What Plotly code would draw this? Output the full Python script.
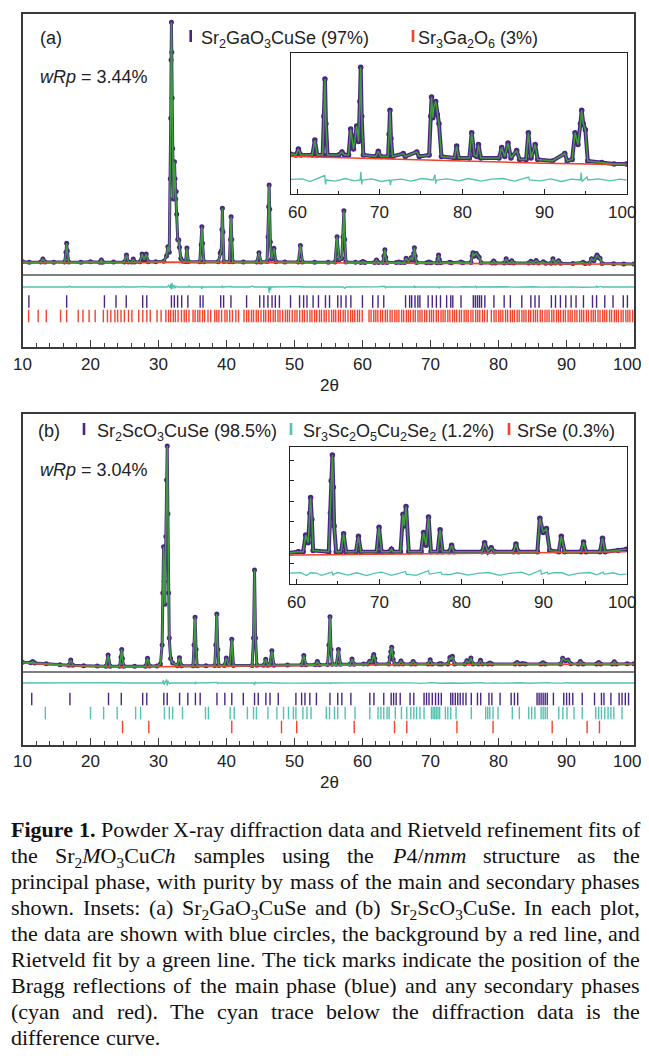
import plotly.graph_objects as go

W, H = 649, 1059          # target picture size
OX, OY = 8, 8             # browser body margin
FW, FH = W - OX, H - 2 * OY   # figure size that fits the window without scrolling

# ---------------- Panel (a): Sr2GaO3CuSe ----------------
obs_a = [
    (10.0, 5.2), (11.0, 5.0), (12.7, 5.1), (13.0, 6.3), (13.3, 5.1), (14.6, 5.0),
    (16.2, 5.1), (16.4, 9.0), (16.5, 12.5), (16.6, 9.5), (16.8, 5.1),
    (18.6, 5.0), (20.0, 5.2), (21.4, 5.0), (21.6, 5.9), (21.8, 5.0),
    (23.4, 5.1), (25.0, 5.1), (25.3, 7.9), (25.6, 5.1), (26.1, 5.1), (26.3, 6.3), (26.5, 5.1),
    (27.3, 5.2), (27.6, 8.3), (27.9, 6.0), (28.2, 8.3), (28.5, 5.2),
    (29.6, 5.2), (30.8, 5.4), (31.2, 7.5), (31.4, 11.2), (31.6, 9.0),
    (31.75, 38.0), (31.82, 62.0), (31.87, 85.0), (31.92, 99.9), (31.97, 88.0), (32.03, 70.0),
    (32.1, 50.0), (32.2, 30.0), (32.3, 36.0), (32.37, 44.8), (32.45, 38.0), (32.55, 30.0),
    (32.62, 33.0), (32.7, 24.0), (32.85, 14.0), (33.0, 13.8), (33.1, 11.0), (33.3, 6.5), (33.6, 5.4),
    (34.0, 5.3), (34.2, 10.7), (34.4, 5.3),
    (36.1, 5.2), (36.3, 12.0), (36.4, 19.1), (36.5, 12.5), (36.7, 5.2),
    (38.8, 5.2), (39.1, 8.7), (39.25, 9.5), (39.35, 18.0), (39.42, 26.4), (39.5, 17.0), (39.65, 5.3),
    (40.45, 5.2), (40.62, 14.0), (40.7, 23.0), (40.8, 14.0), (40.95, 5.2),
    (42.5, 5.1), (44.5, 5.1), (44.8, 8.8), (45.1, 5.1),
    (46.0, 5.3), (46.15, 15.0), (46.23, 27.0), (46.3, 35.6), (46.38, 26.0), (46.48, 13.0), (46.65, 6.2),
    (47.0, 10.6), (47.3, 5.2),
    (48.6, 5.1), (50.6, 5.1), (50.9, 11.7), (51.2, 5.1),
    (53.0, 5.0), (55.0, 5.0), (56.0, 5.1), (56.3, 15.1), (56.6, 6.0), (57.0, 6.5),
    (57.18, 15.0), (57.3, 25.4), (57.42, 14.0), (57.6, 5.1),
    (59.0, 5.0), (59.8, 4.9), (60.1, 5.3), (60.4, 4.9),
    (61.8, 4.9), (62.1, 5.9), (62.4, 4.9), (63.05, 4.9), (63.2, 7.5), (63.33, 10.0), (63.45, 7.0), (63.65, 4.9),
    (65.0, 4.9), (65.4, 5.1), (65.7, 4.9), (66.2, 4.9), (66.46, 6.65), (66.8, 5.3), (67.19, 6.85),
    (67.42, 5.8), (67.58, 8.5), (67.68, 10.8), (67.8, 7.5), (68.0, 4.9),
    (69.5, 4.8), (69.82, 5.15), (70.1, 4.8), (71.0, 4.8), (71.14, 6.3), (71.24, 7.9), (71.36, 6.0),
    (71.55, 4.8), (72.86, 5.0), (73.1, 4.8), (74.5, 5.1), (74.8, 4.8),
    (76.0, 4.9), (76.2, 7.5), (76.3, 8.8), (76.45, 7.4), (76.6, 8.2), (76.8, 8.5), (77.0, 7.6),
    (77.2, 7.0), (77.5, 4.8),
    (79.1, 4.7), (79.35, 5.5), (79.6, 4.7), (80.9, 4.7), (81.18, 6.4), (81.5, 4.9), (81.8, 4.8),
    (82.0, 5.6), (82.3, 4.7),
    (84.5, 4.7), (84.83, 5.4), (85.2, 4.8), (85.6, 5.7), (85.95, 4.7), (86.65, 5.2), (87.0, 4.6),
    (87.8, 4.6), (88.07, 6.4), (88.4, 4.7), (88.9, 5.6), (89.2, 4.6),
    (91.0, 4.5), (92.5, 5.0), (92.8, 4.5), (93.4, 4.6), (93.75, 6.4), (94.1, 5.6), (94.4, 7.0),
    (94.56, 7.9), (94.75, 7.0), (95.0, 6.6), (95.3, 4.5),
    (97.0, 4.4), (98.5, 4.3), (100.0, 4.3),
]
bg_a_2theta = [10, 20, 28, 32, 36, 50, 60, 70, 80, 90, 100]
bg_a_counts = [4.8, 4.8, 4.85, 5.1, 4.9, 4.85, 4.8, 4.65, 4.5, 4.35, 4.25]
diff_a = [
    (10, 0), (12.4, 0), (12.5, 0.25), (12.6, 0), (16.8, 0), (16.9, 0.35), (17.0, -0.1), (17.1, 0),
    (24.7, 0), (24.8, 0.3), (25.0, 0), (26.3, 0.2), (26.5, 0), (28.0, 0.15), (28.3, -0.1), (28.5, 0),
    (31.3, 0), (31.5, 0.6), (31.7, -0.4), (31.8, 1.2), (31.9, -1.0), (32.0, 1.6), (32.1, -0.6),
    (32.3, 0.8), (32.45, -0.5), (32.6, 0.3), (32.8, 0), (34.4, 0), (34.5, 0.45), (34.6, 0),
    (36.3, 0), (36.4, -0.8), (36.5, 0.2), (36.6, 0), (39.3, 0), (39.4, 0.35), (39.5, -0.2), (39.6, 0),
    (40.7, 0.2), (40.8, 0), (43.5, 0), (43.8, 0.4), (44.1, 0), (46.2, 0), (46.3, -2.3), (46.4, 0.4),
    (46.5, -1.2), (46.6, 0), (51.0, 0.15), (51.1, 0), (57.2, 0), (57.4, -0.5), (57.6, 0),
    (60.6, 0.08), (61.5, -0.1), (62.4, 0.1), (63.3, 0.3), (63.4, -0.3), (63.5, 0), (64.6, -0.08),
    (65.8, 0.1), (66.9, -0.06), (67.6, 0), (67.7, 0.55), (67.8, -0.3), (67.9, 0), (69.0, 0.08),
    (70.2, -0.1), (71.2, 0), (71.3, -0.35), (71.4, 0), (72.6, 0.06), (73.8, -0.08), (75.1, 0.1),
    (76.5, 0), (76.7, 0.35), (76.8, -0.25), (76.9, 0), (78.2, 0.08), (79.6, -0.06), (80.8, 0.1),
    (82.3, -0.08), (83.6, 0.06), (85.0, 0.1), (86.4, -0.08), (88.1, 0.2), (88.2, 0), (89.5, -0.06),
    (90.8, 0.08), (92.1, -0.1), (93.3, 0.06), (94.4, 0), (94.5, 0.5), (94.6, -0.1), (95.2, 0.2),
    (95.3, 0), (96.6, 0.08), (98.0, -0.06), (99.2, 0.06), (100, 0),
]
ticks_a_Sr2GaO3CuSe = [
    10.94, 16.5, 22.06, 23.76, 25.27, 27.69, 28.29, 31.92, 32.35, 32.83, 33.43, 34.34, 36.15,
    36.57, 39.17, 39.6, 40.68, 42.98, 44.92, 45.52, 46.12, 46.73, 47.21, 47.81, 49.45, 50.78,
    51.38, 51.87, 52.77, 53.56, 54.59, 55.19, 56.4, 56.89, 57.61, 58.33, 60.03, 61.54, 62.33,
    63.17, 66.38, 66.98, 67.28, 67.77, 68.19, 68.49, 69.7, 70.31, 70.91, 71.52, 72.42, 73.03,
    73.33, 74.54, 76.35, 76.65, 76.96, 77.26, 77.56, 78.05, 79.38, 80.89, 81.8, 83.49, 84.82,
    85.43, 86.03, 87.84, 88.45, 89.17, 89.96, 90.75, 91.47, 92.56, 93.89, 94.49, 95.7, 96.91,
    98.42, 99.03,
]
ticks_a_Sr3Ga2O6 = [
    10.9, 12.3, 13.5, 15.6, 16.5, 18.2, 18.9, 19.8, 20.7, 21.9, 22.5, 23.0, 23.6, 24.0, 24.5,
    25.0, 25.6, 26.1, 27.1, 27.7, 28.3, 28.8, 29.8, 30.4, 31.1, 31.5, 31.8, 32.2, 32.5, 32.9,
    33.4, 33.8, 34.1, 34.5, 35.1, 35.4, 35.8, 36.1, 36.5, 36.8, 37.3, 37.7, 38.3, 38.6, 38.9,
    39.3, 39.8, 40.1, 40.5, 40.9, 41.4, 41.8, 42.6, 43.0, 43.3, 43.7, 44.0, 44.4, 44.7, 45.1,
    45.5, 45.8, 46.2, 46.5, 46.9, 47.2, 47.6, 47.9, 48.3, 48.7, 49.0, 49.3, 49.7, 50.1, 50.4,
    50.8, 51.2, 51.5, 51.9, 52.3, 52.6, 53.0, 53.3, 53.7, 54.0, 54.4, 54.7, 55.1, 55.5, 55.8,
    56.1, 56.5, 56.8, 57.2, 57.5, 57.9, 58.3, 58.6, 58.9, 59.3, 59.6, 60.0, 61.0, 61.3, 61.7,
    62.0, 62.3, 62.7, 63.0, 63.4, 63.7, 64.1, 64.4, 64.8, 65.1, 65.4, 65.8, 66.1, 66.5, 66.8,
    67.1, 67.5, 67.8, 68.2, 68.5, 68.8, 69.2, 69.5, 69.9, 70.2, 70.5, 70.9, 71.2, 71.6, 71.9,
    72.2, 72.6, 72.9, 73.3, 73.6, 73.9, 74.3, 74.6, 75.0, 75.3, 75.6, 76.0, 76.3, 76.7, 77.0,
    77.3, 77.7, 78.0, 78.4, 79.0, 79.4, 79.7, 80.1, 80.4, 80.7, 81.1, 81.4, 81.8, 82.1, 82.4,
    82.8, 83.1, 83.5, 83.8, 84.1, 84.5, 84.8, 85.2, 85.5, 85.8, 86.2, 86.5, 86.9, 87.2, 87.5,
    87.9, 88.2, 88.6, 88.9, 89.2, 89.6, 89.9, 90.3, 90.6, 90.9, 91.3, 91.6, 92.0, 92.3, 92.6,
    93.0, 93.3, 93.7, 94.0, 94.3, 94.7, 95.0, 95.4, 95.7, 96.0, 96.4, 96.7, 97.1, 97.4, 97.7,
    98.1, 98.4, 98.8, 99.1, 99.4, 99.8,
]

# ---------------- Panel (b): Sr2ScO3CuSe ----------------
obs_b = [
    (10.0, 4.3), (11.2, 4.1), (11.5, 4.6), (11.8, 4.0), (13.5, 3.6), (15.5, 3.2), (16.8, 3.0),
    (17.1, 5.3), (17.4, 3.0), (19.0, 2.8), (21.0, 2.7), (22.3, 2.6), (22.6, 7.5), (22.9, 2.6),
    (24.3, 2.6), (24.5, 6.5), (24.6, 10.0), (24.7, 6.0), (24.9, 2.6), (26.5, 2.6), (28.1, 2.6),
    (28.4, 6.1), (28.7, 2.7), (29.8, 2.7), (30.3, 3.5), (30.55, 12.0), (30.65, 35.0), (30.76, 55.4),
    (30.86, 40.0), (30.95, 30.0), (31.1, 60.0), (31.2, 85.0), (31.3, 100.0), (31.4, 70.0),
    (31.5, 35.0), (31.6, 15.0), (31.8, 6.0), (32.1, 4.0), (32.8, 2.8), (33.1, 6.3), (33.4, 2.8),
    (35.1, 2.8), (35.25, 12.0), (35.4, 24.2), (35.55, 10.0), (35.7, 2.8), (37.0, 2.8),
    (38.3, 2.9), (38.45, 12.0), (38.6, 25.7), (38.75, 10.0), (38.9, 2.9), (39.7, 2.9), (40.0, 6.2),
    (40.3, 3.2), (40.55, 3.5), (40.8, 14.5), (41.05, 2.9), (43.8, 2.9), (44.0, 15.0), (44.15, 45.1),
    (44.3, 15.0), (44.5, 3.0), (45.5, 3.0), (45.8, 5.6), (46.1, 3.0), (46.4, 3.2), (46.7, 9.4),
    (47.0, 3.0), (49.0, 3.1), (51.1, 3.2), (51.4, 7.3), (51.7, 3.2), (53.1, 3.2), (53.4, 4.6),
    (53.7, 3.2), (54.9, 3.3), (55.1, 12.0), (55.25, 24.5), (55.4, 10.0), (55.6, 3.4), (56.2, 3.4),
    (56.5, 10.0), (56.8, 3.4), (58.2, 3.4), (58.5, 5.8), (58.8, 3.4),
    (60.2, 3.5), (60.8, 3.5), (61.1, 4.8), (61.4, 4.2), (61.6, 6.5), (61.7, 7.7), (61.85, 6.0),
    (62.0, 3.6), (63.9, 3.5), (64.1, 6.5), (64.2, 9.0), (64.34, 11.0), (64.45, 8.5), (64.55, 5.5),
    (64.8, 3.5), (65.4, 3.5), (65.7, 4.9), (66.0, 3.5), (67.2, 3.5), (67.5, 4.7), (67.8, 3.5),
    (69.7, 3.5), (70.0, 5.4), (70.3, 3.5), (71.3, 3.5), (71.5, 3.7), (71.7, 3.5), (72.6, 3.5),
    (72.9, 6.4), (73.05, 5.5), (73.27, 7.0), (73.6, 3.5), (75.1, 3.5), (75.4, 5.0), (75.7, 4.0),
    (76.0, 6.2), (76.3, 3.5), (77.1, 3.5), (77.4, 5.2), (77.7, 3.5), (78.5, 3.5), (78.8, 4.0),
    (79.1, 3.5), (82.5, 3.5), (82.8, 4.2), (83.2, 3.5), (83.6, 3.8), (84.0, 3.5), (86.3, 3.5),
    (86.6, 4.1), (86.9, 3.5), (89.2, 3.5), (89.5, 6.1), (89.9, 5.0), (90.3, 5.3), (90.7, 3.6),
    (91.8, 3.5), (92.1, 4.7), (92.5, 3.5), (94.5, 3.5), (94.8, 4.25), (95.1, 3.5), (96.8, 3.5),
    (97.1, 4.55), (97.4, 3.5), (99.0, 3.6), (100.0, 3.7),
]
bg_b_2theta = [10, 15, 20, 25, 30, 40, 50, 60, 70, 80, 90, 100]
bg_b_counts = [4.1, 3.0, 2.5, 2.25, 2.35, 2.65, 2.95, 3.25, 3.3, 3.35, 3.4, 3.5]
diff_b = [
    (10, 0), (13.0, 0.06), (15.0, -0.05), (17.0, 0.2), (17.2, 0), (20.0, -0.06), (22.6, 0.15),
    (22.8, 0), (24.6, 0.2), (24.8, 0), (26.5, -0.06), (28.4, 0.2), (28.6, 0), (30.6, 0),
    (30.75, 1.2), (30.85, -0.8), (31.2, 1.6), (31.3, -1.2), (31.4, 1.0), (31.6, -0.3), (31.8, 0),
    (33.0, 0.2), (33.2, 0), (35.3, 0), (35.4, -0.5), (35.5, 0.3), (35.6, 0), (36.7, 0.2), (36.9, 0),
    (38.6, 0.3), (38.7, -0.2), (38.8, 0), (40.8, -0.2), (41.0, 0), (44.05, 0), (44.15, -0.9),
    (44.25, 0.5), (44.4, 0), (46.7, 0.2), (46.9, 0), (49.5, -0.06), (52.0, 0.06), (55.2, 0),
    (55.3, -0.3), (55.4, 0), (58.0, 0.05), (60.5, 0.1), (61.2, -0.12), (61.7, 0.1), (62.4, 0.08),
    (63.0, -0.1), (64.3, 0.15), (64.4, -0.1), (64.5, 0), (65.0, 0.12), (66.2, -0.08), (67.3, 0.1),
    (68.5, -0.12), (69.4, 0.06), (70.3, 0.15), (71.5, -0.1), (72.4, 0.05), (73.2, 0.2), (73.3, 0),
    (74.5, -0.1), (75.2, 0.08), (76.0, 0.25), (76.1, 0), (77.5, 0.15), (77.6, 0), (78.6, -0.05),
    (79.5, 0.1), (80.8, -0.08), (82.0, 0.05), (83.3, 0.12), (84.6, -0.1), (85.8, 0.06),
    (87.3, 0.15), (88.2, -0.08), (89.6, 0.3), (89.7, 0), (90.4, 0.15), (90.5, 0), (91.2, 0.1),
    (92.2, 0.1), (93.0, -0.1), (94.1, 0.05), (95.6, 0.12), (96.4, -0.06), (97.2, 0.15),
    (97.3, 0), (98.4, 0.1), (99.2, -0.05), (100, 0),
]
ticks_b_Sr2ScO3CuSe = [
    11.36, 16.98, 22.66, 24.54, 27.69, 28.29, 30.8, 31.3, 33.12, 34.33, 35.45, 36.15, 38.62,
    39.78, 40.8, 42.5, 44.15, 44.7, 45.82, 46.43, 47.64, 50.24, 51.08, 51.57, 52.29, 53.26,
    55.25, 56.4, 57.0, 58.33, 61.12, 61.72, 63.17, 64.26, 64.62, 64.99, 65.59, 67.04, 67.59,
    69.1, 69.46, 69.83, 70.31, 70.79, 71.22, 71.64, 73.03, 73.33, 73.7, 74.06, 74.42, 74.84,
    75.27, 76.05, 76.96, 77.44, 78.65, 79.08, 80.29, 81.92, 82.4, 82.88, 85.73, 86.03, 86.33,
    86.63, 86.93, 87.24, 88.14, 89.66, 90.08, 90.5, 90.99, 92.38, 94.19, 95.21, 95.58, 96.6,
    97.81, 98.24, 98.72, 99.2,
]
ticks_b_Sr3Sc2O5Cu2Se2 = [
    13.36, 20.01, 21.94, 23.93, 26.65, 27.38, 30.89, 31.61, 32.1, 33.55, 36.93, 37.36, 40.56,
    41.16, 43.1, 44.0, 44.43, 46.12, 47.45, 48.42, 49.15, 49.87, 50.24, 51.27, 51.87, 52.47,
    54.71, 55.19, 55.92, 56.4, 57.49, 58.94, 61.12, 62.33, 62.75, 63.17, 63.66, 63.96, 64.87,
    65.77, 66.56, 67.16, 67.59, 68.01, 68.49, 69.1, 70.19, 70.43, 70.67, 70.91, 71.15, 71.4,
    72.24, 72.6, 73.03, 73.81, 76.05, 78.17, 78.47, 78.77, 79.26, 79.98, 82.09, 83.12, 84.51,
    84.94, 85.42, 86.33, 86.63, 86.93, 87.24, 88.93, 89.53, 90.14, 91.17, 92.38, 94.37, 94.8,
    95.21, 95.7, 96.18, 96.6, 97.03, 98.24,
]
ticks_b_SrSe = [24.72, 28.59, 40.8, 48.12, 50.36, 58.82, 64.75, 66.56, 73.94, 79.26, 87.96, 93.1, 94.92]

x_tick_labels = [10, 20, 30, 40, 50, 60, 70, 80, 90, 100]
inset_tick_labels = [60, 70, 80, 90, 100]

caption_lines = [
    "<b>Figure</b> <b>1.</b> Powder X-ray diffraction data and Rietveld refinement fits of",
    "the Sr<sub>2</sub><i>M</i>O<sub>3</sub>Cu<i>Ch</i> samples using the <i>P</i>4/<i>nmm</i> structure as the",
    "principal phase, with purity by mass of the main and secondary phases",
    "shown. Insets: (a) Sr<sub>2</sub>GaO<sub>3</sub>CuSe and (b) Sr<sub>2</sub>ScO<sub>3</sub>CuSe. In each plot,",
    "the data are shown with blue circles, the background by a red line, and",
    "Rietveld fit by a green line. The tick marks indicate the position of the",
    "Bragg reflections of the main phase (blue) and any secondary phases",
    "(cyan and red). The cyan trace below the diffraction data is the",
    "difference curve.",
]

# ---------------- styling ----------------
PURPLE = "#4a2586"
GREEN = "#3f9d3c"
RED = "#f2432d"
CYAN = "#52c2b1"
FRAME = "#3a3a3a"
SANS = "Liberation Sans, Arial, sans-serif"
SERIF = "Liberation Serif, Times New Roman, serif"


def fx(p):
    return (p - OX) / FW


def fy(p):
    return 1 - (p - OY) / FH


fig = go.Figure()


def add_pattern(obs, bgx, bgy, diff, diff_off, xa, ya, band, dot):
    x = [p[0] for p in obs]
    y = [p[1] for p in obs]
    common = dict(xaxis=xa, yaxis=ya, showlegend=False, hoverinfo="skip")
    fig.add_trace(go.Scatter(x=x, y=y, mode="lines+markers",
                             line=dict(color=PURPLE, width=band),
                             marker=dict(color=PURPLE, size=dot), **common))
    fig.add_trace(go.Scatter(x=bgx, y=bgy, mode="lines",
                             line=dict(color=RED, width=1.6), **common))
    fig.add_trace(go.Scatter(x=x, y=y, mode="lines",
                             line=dict(color=GREEN, width=1.5), **common))
    fig.add_trace(go.Scatter(x=[p[0] for p in diff], y=[diff_off + p[1] for p in diff],
                             mode="lines", line=dict(color=CYAN, width=1.3), **common))


def add_ticks(pos, level, color, xa, ya, size=9):
    fig.add_trace(go.Scatter(x=pos, y=[level] * len(pos), mode="markers",
                             marker=dict(symbol="line-ns", size=size,
                                         line=dict(color=color, width=1.4)),
                             xaxis=xa, yaxis=ya, showlegend=False, hoverinfo="skip"))


# panel (a)
add_pattern(obs_a, bg_a_2theta, bg_a_counts, diff_a, -4.74, "x", "y", 3, 5)
add_ticks(ticks_a_Sr2GaO3CuSe, -10.47, PURPLE, "x", "y")
add_ticks(ticks_a_Sr3Ga2O6, -16.2, RED, "x", "y")
add_pattern(obs_a, bg_a_2theta, bg_a_counts, diff_a, 3.22, "x2", "y2", 4, 5.5)
# panel (b)
add_pattern(obs_b, bg_b_2theta, bg_b_counts, diff_b, -4.87, "x3", "y3", 3, 5)
add_ticks(ticks_b_Sr2ScO3CuSe, -11.95, PURPLE, "x3", "y3")
add_ticks(ticks_b_Sr3Sc2O5Cu2Se2, -18.14, CYAN, "x3", "y3")
add_ticks(ticks_b_SrSe, -24.34, RED, "x3", "y3")
add_pattern(obs_b, bg_b_2theta, bg_b_counts, diff_b, 1.77, "x4", "y4", 4, 5.5)

main_x = dict(range=[10, 100], domain=[fx(22.5), fx(634)], tickvals=x_tick_labels,
              showline=True, mirror=True, linecolor=FRAME, linewidth=1.6,
              ticks="inside", ticklen=7, tickwidth=1.3, tickcolor=FRAME,
              minor=dict(dtick=2, tick0=10, ticks="inside", ticklen=4, tickwidth=1.1, tickcolor=FRAME),
              showgrid=False, zeroline=False, showticklabels=False)
main_y = dict(showline=True, mirror=True, linecolor=FRAME, linewidth=1.6,
              showticklabels=False, ticks="", showgrid=False, zeroline=False)
inset_x = dict(range=[59.2, 100.07], tickvals=inset_tick_labels,
               showline=True, mirror=True, linecolor="#222", linewidth=1.1,
               ticks="inside", ticklen=5, tickwidth=1, tickcolor="#222",
               minor=dict(dtick=5, tick0=60, ticks="inside", ticklen=3, tickwidth=1, tickcolor="#222"),
               showgrid=False, zeroline=False, showticklabels=False)
inset_y = dict(showline=True, mirror=True, linecolor="#222", linewidth=1.1,
               showticklabels=False, showgrid=False, zeroline=False)

fig.update_layout(
    width=FW, height=FH, margin=dict(l=0, r=0, t=0, b=0),
    paper_bgcolor="white", plot_bgcolor="rgba(0,0,0,0)", showlegend=False,
    xaxis=dict(main_x, anchor="y"),
    yaxis=dict(main_y, anchor="x", domain=[fy(347), fy(14)], range=[-28.46, 103.16]),
    xaxis2=dict(inset_x, anchor="y2", domain=[fx(291), fx(627)]),
    yaxis2=dict(inset_y, anchor="x2", domain=[fy(194), fy(53.3)], range=[2.28, 11.73], ticks=""),
    xaxis3=dict(main_x, anchor="y3"),
    yaxis3=dict(main_y, anchor="x3", domain=[fy(745), fy(414)], range=[-32.30, 114.16]),
    xaxis4=dict(inset_x, anchor="y4", domain=[fx(290), fx(627)]),
    yaxis4=dict(inset_y, anchor="x4", domain=[fy(584), fy(446.7)], range=[1.0, 11.64],
                ticks="inside", ticklen=4, tickcolor="#222",
                tickvals=[2.62, 4.25, 5.84, 7.4, 9.0, 10.6]),
)

# tick labels (as annotations placed on the axes' own scales)
for xr, ly, vals in (("x", 364, x_tick_labels), ("x3", 761, x_tick_labels),
                     ("x2", 212, inset_tick_labels), ("x4", 602, inset_tick_labels)):
    for v in vals:
        edge = v == 100
        fig.add_annotation(text=str(v), x=v, xref=xr, y=fy(ly), yref="paper",
                           xanchor="center", yanchor="middle", showarrow=False,
                           xshift=(-7 if edge and xr in ("x", "x3") else (-4 if edge else 0)),
                           font=dict(family=SANS, size=17, color="#222"))

# separators between data and difference/tick area
for xr, yr in (("x", "y"), ("x3", "y3")):
    fig.add_shape(type="line", xref=xr, yref=yr, x0=10, x1=100, y0=0, y1=0,
                  line=dict(color="#555", width=1.6))

# legend bars
for (bx, by, col) in [(190.7, 36, PURPLE), (413, 36, RED),
                      (84, 429, PURPLE), (291, 429, CYAN), (509, 429, RED)]:
    fig.add_shape(type="line", xref="paper", yref="paper",
                  x0=fx(bx), x1=fx(bx), y0=fy(by - 6), y1=fy(by + 6),
                  line=dict(color=col, width=2.6))

labels = [
    ("(a)", 38, 36),
    ("<i>wRp</i> = 3.44%", 38, 75),
    ("Sr<sub>2</sub>GaO<sub>3</sub>CuSe (97%)", 199, 36),
    ("Sr<sub>3</sub>Ga<sub>2</sub>O<sub>6</sub> (3%)", 416, 36),
    ("(b)", 36, 429),
    ("Sr<sub>2</sub>ScO<sub>3</sub>CuSe (98.5%)", 95, 429),
    ("Sr<sub>3</sub>Sc<sub>2</sub>O<sub>5</sub>Cu<sub>2</sub>Se<sub>2</sub> (1.2%)", 301, 429),
    ("SrSe (0.3%)", 515, 429),
    ("<i>wRp</i> = 3.04%", 38, 468),
]
for txt, lx, ly in labels:
    fig.add_annotation(text=txt, x=fx(lx), y=fy(ly - 10), xref="paper", yref="paper",
                       xanchor="left", yanchor="top", showarrow=False,
                       font=dict(family=SANS, size=18, color="#222"))
for ly in (385, 782):
    fig.add_annotation(text="2θ", x=fx(330), y=fy(ly), xref="paper", yref="paper",
                       xanchor="center", yanchor="middle", showarrow=False,
                       font=dict(family=SANS, size=17, color="#222"))

# ---------------- caption (justified, Times metrics) ----------------
REG = {" ": 250, "(": 333, ")": 333, ",": 250, "-": 333, ".": 250, "/": 278, ":": 278, "%": 833}
REG.update({d: 500 for d in "0123456789"})
REG.update(dict(zip("ABCDEFGHIJKLMNOPQRSTUVWXYZ",
                    [722, 667, 667, 722, 611, 556, 722, 722, 333, 389, 722, 611, 889, 722, 722,
                     556, 722, 667, 556, 611, 722, 722, 944, 722, 722, 611])))
REG.update(dict(zip("abcdefghijklmnopqrstuvwxyz",
                    [444, 500, 444, 500, 444, 333, 500, 500, 278, 278, 500, 278, 778, 500, 500,
                     500, 500, 333, 389, 278, 500, 500, 722, 500, 500, 444])))
BOLD = {"F": 611, "i": 278, "g": 500, "u": 556, "r": 444, "e": 444, "1": 500, ".": 250}
ITAL = {"M": 833, "C": 667, "h": 500, "P": 611, "n": 500, "m": 722}


def html_width(s, size):
    w = 0.0
    bold = ital = sub = False
    i = 0
    while i < len(s):
        if s[i] == "<":
            j = s.index(">", i)
            tag = s[i + 1:j]
            if tag == "b": bold = True
            elif tag == "/b": bold = False
            elif tag == "i": ital = True
            elif tag == "/i": ital = False
            elif tag == "sub": sub = True
            elif tag == "/sub": sub = False
            i = j + 1
            continue
        c = s[i]
        cw = REG.get(c, 500)
        if bold: cw = BOLD.get(c, cw)
        if ital: cw = ITAL.get(c, cw)
        w += cw * (0.7 if sub else 1.0)
        i += 1
    return w * size / 1000.0


CAP_SIZE = 22
CAP_LEFT, CAP_RIGHT = 10, 639
for li, line in enumerate(caption_lines):
    words = line.split(" ")
    widths = [html_width(wd, CAP_SIZE) for wd in words]
    if li < len(caption_lines) - 1 and len(words) > 1:
        gap = (CAP_RIGHT - CAP_LEFT - sum(widths)) / (len(words) - 1)
        gap = max(gap, 0.2 * CAP_SIZE)
    else:
        gap = 0.25 * CAP_SIZE
    yc = 828 + 26.0 * li
    xpos = CAP_LEFT
    for wd, ww in zip(words, widths):
        fig.add_annotation(text=wd, x=fx(xpos), y=fy(yc - 12.5), xref="paper", yref="paper",
                           xanchor="left", yanchor="top", showarrow=False, borderpad=0,
                           font=dict(family=SERIF, size=CAP_SIZE, color="#111"))
        xpos += ww + gap

fig.write_html("out.html")
